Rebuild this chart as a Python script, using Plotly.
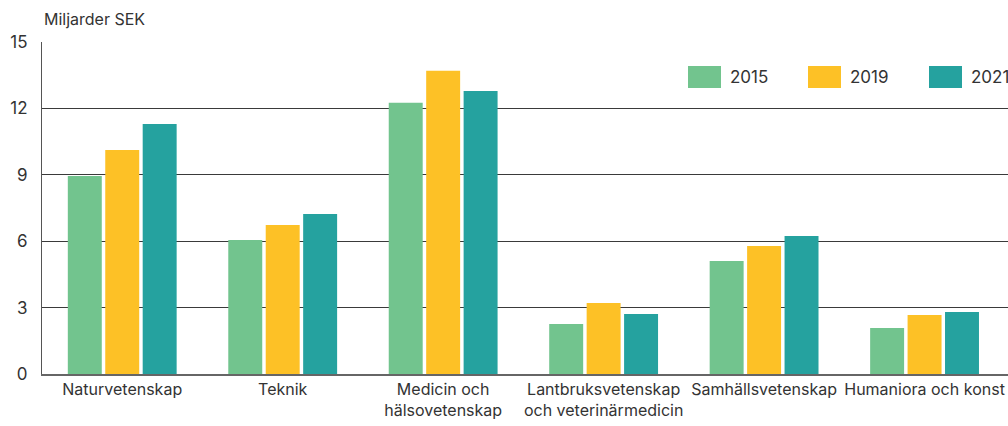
import plotly.graph_objects as go

categories = ["Naturvetenskap", "Teknik", "Medicin och<br>hälsovetenskap",
              "Lantbruksvetenskap<br>och veterinärmedicin", "Samhällsvetenskap",
              "Humaniora och konst"]
years = ["2015", "2019", "2021"]
v2015 = [8.95, 6.05, 12.25, 2.26, 5.11, 2.08]
v2019 = [10.12, 6.73, 13.7, 3.21, 5.78, 2.67]
v2021 = [11.3, 7.23, 12.79, 2.71, 6.24, 2.8]
colors = ["#72C48E", "#FDC126", "#25A29F"]
yticks = [0, 3, 6, 9, 12, 15]

FONT = "Inter"
fig = go.Figure()
for name, vals, col in zip(years, [v2015, v2019, v2021], colors):
    fig.add_trace(go.Bar(x=list(range(len(categories))), y=vals, name=name,
                         marker=dict(color=col, line=dict(width=0)),
                         showlegend=False, hoverinfo="y"))

fig.update_layout(
    width=1008, height=426,
    margin=dict(l=42, r=0, t=42, b=52),
    paper_bgcolor="white", plot_bgcolor="white",
    barmode="group", bargap=0.30, bargroupgap=0.093,
    font=dict(family=FONT, size=16, color="#333333"),
    xaxis=dict(range=[-0.5, 5.52], tickvals=list(range(len(categories))),
               ticktext=categories, showgrid=False, showline=True,
               linecolor="#666666", linewidth=2, ticks="", zeroline=False,
               ticklabeloverflow="allow",
               tickfont=dict(size=16, color="#333333")),
    yaxis=dict(range=[0, 15], tickvals=yticks, showgrid=True,
               gridcolor="#3a3a3a", gridwidth=1, showline=True,
               linecolor="#555555", linewidth=1, zeroline=False, ticks="",
               ticklabelstandoff=10, tickfont=dict(size=17, color="#333333")),
)

fig.add_annotation(text="Miljarder SEK", xref="paper", yref="paper", x=0,
                   xshift=0, y=1, yshift=11, xanchor="left", yanchor="bottom",
                   showarrow=False, font=dict(size=16, color="#333333"))

# legend drawn as swatches + labels
leg_x = [688, 808, 929]
for name, col, px in zip(years, colors, leg_x):
    x0 = (px - 42) / 966
    x1 = (px + 33 - 42) / 966
    y0 = (374 - 88) / 332
    y1 = (374 - 66) / 332
    fig.add_shape(type="rect", xref="paper", yref="paper", x0=x0, x1=x1,
                  y0=y0, y1=y1, fillcolor=col, line=dict(width=0))
    fig.add_annotation(text=name, xref="paper", yref="paper",
                       x=(px + 40 - 42) / 966, y=(y0 + y1) / 2,
                       xanchor="left", yanchor="middle", showarrow=False,
                       font=dict(size=17, color="#333333"))

fig.write_html(
    "out.html",
    config={"displayModeBar": False},
    post_script="document.body.style.margin='0';document.body.style.overflow='hidden';",
)
